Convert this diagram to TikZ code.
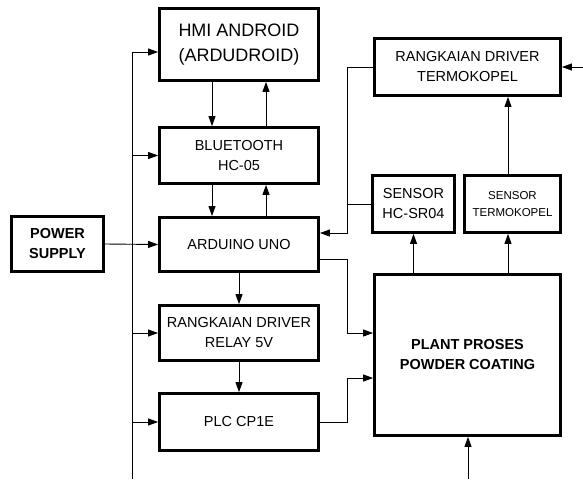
\documentclass[tikz,border=0pt]{standalone}
\usepackage{fontspec}
\setmainfont{Liberation Sans}
\usetikzlibrary{arrows.meta, positioning, calc}
\tikzset{
  blkbox/.style={draw=black, line width=2.8pt, align=center, inner sep=2pt,
    minimum width=159pt, font=\fontsize{14.5}{20}\selectfont},
  blkbig/.style={blkbox, font=\fontsize{18}{25}\selectfont},
  blksmall/.style={blkbox, font=\fontsize{11.5}{17}\selectfont},
  blkbold/.style={blkbox, font=\fontsize{14.5}{20}\selectfont\bfseries},
  blkarrow/.style={-{Triangle[length=10pt,width=7pt]}, line width=0.9pt},
  blkline/.style={line width=0.9pt}
}
\begin{document}
\begin{tikzpicture}[x=1pt, y=-1pt]
  \useasboundingbox (0,0) rectangle (583,479);

  % left column
  \node[blkbig,  minimum height=72pt] (hmi)   at (239,44.5) {HMI ANDROID\\(ARDUDROID)};
  \node[blkbox,  minimum height=56pt] (bt)    at (239,155.5) {BLUETOOTH\\HC-05};
  \node[blkbox,  minimum height=54pt] (ard)   at (239,244.5) {ARDUINO UNO};
  \node[blkbox,  minimum height=55pt] (relay) at (239,333) {RANGKAIAN DRIVER\\RELAY 5V};
  \node[blkbox,  minimum height=57pt] (plc)   at (239,422) {PLC CP1E};
  \node[blkbold, minimum width=92pt, minimum height=55pt] (ps) at (57.5,244) {POWER\\SUPPLY};

  % right column
  \node[blkbox,   minimum width=186pt, minimum height=57pt]  (drv)   at (467.5,67) {RANGKAIAN DRIVER\\TERMOKOPEL};
  \node[blkbox,   minimum width=82pt,  minimum height=57pt]  (hcsr)  at (413.5,204) {SENSOR\\HC-SR04};
  \node[blksmall, minimum width=96pt,  minimum height=57pt]  (stc)   at (512.5,204) {SENSOR\\TERMOKOPEL};
  \node[blkbold,  minimum width=186pt, minimum height=161pt] (plant) at (467.5,355) {PLANT PROSES\\POWDER COATING};

  % power bus
  \coordinate (bustop) at (132,52);
  \coordinate (busbot) at (132,479);
  \draw[blkline] (bustop) -- (busbot);
  \draw[blkarrow] (bustop) -- (bustop -| hmi.west);
  \draw[blkarrow] (bustop |- bt.west) -- (bt.west);
  \draw[blkarrow] (ps.east) -- (ard.west);
  \draw[blkarrow] (bustop |- relay.west) -- (relay.west);
  \draw[blkarrow] (bustop |- plc.west) -- (plc.west);

  % hmi <-> bluetooth <-> arduino
  \draw[blkarrow] ([xshift=-27pt]hmi.south) -- ([xshift=-27pt]bt.north);
  \draw[blkarrow] ([xshift=27pt]bt.north) -- ([xshift=27pt]hmi.south);
  \draw[blkarrow] ([xshift=-27pt]bt.south) -- ([xshift=-27pt]ard.north);
  \draw[blkarrow] ([xshift=27pt]ard.north) -- ([xshift=27pt]bt.south);
  \draw[blkarrow] (ard) -- (relay);
  \draw[blkarrow] (relay) -- (plc);

  % sensors back to arduino
  \coordinate (tap) at (347,233);
  \draw[blkarrow] (drv.west) -| (tap) -- (tap -| ard.east);
  \draw[blkline] (hcsr.west) -- (hcsr.west -| tap);

  % outputs to plant
  \coordinate (ardout) at (347,259);
  \coordinate (ardin)  at (347,333);
  \draw[blkarrow] (ardout -| ard.east) -- (ardout) -- (ardin) -- (ardin -| plant.west);
  \coordinate (plcout) at (347,422);
  \coordinate (plcin)  at (347,378);
  \draw[blkarrow] (plcout -| plc.east) -- (plcout) -- (plcin) -- (plcin -| plant.west);

  % plant -> sensors -> driver
  \draw[blkarrow] (hcsr.south |- plant.north) -- (hcsr.south);
  \coordinate (tk) at (508,0);
  \draw[blkarrow] (tk |- plant.north) -- (tk |- stc.south);
  \draw[blkarrow] (tk |- stc.north) -- (tk |- drv.south);

  % external inputs
  \coordinate (drvin) at (583,67);
  \draw[blkarrow] (drvin) -- (drv.east);
  \coordinate (plantin) at (468,479);
  \draw[blkarrow] (plantin) -- (plantin |- plant.south);
\end{tikzpicture}
\end{document}
